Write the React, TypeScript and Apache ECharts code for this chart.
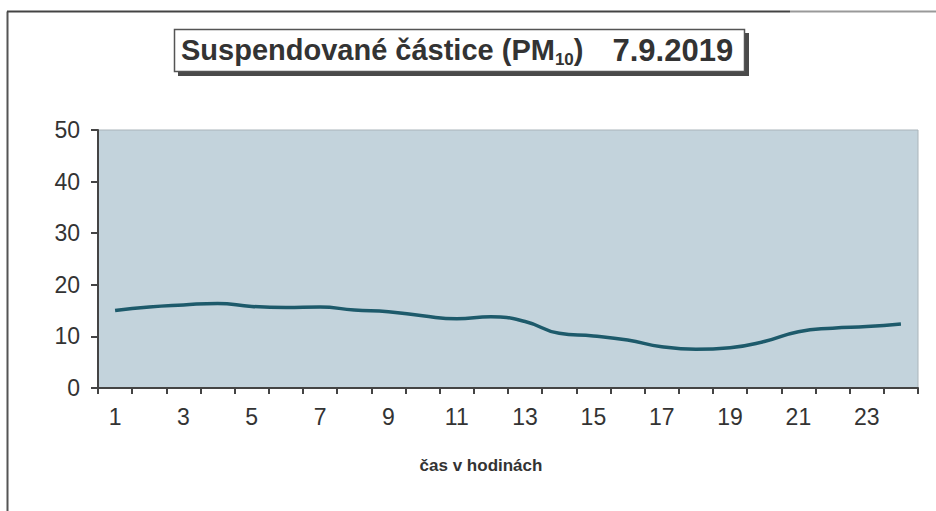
import React, { useEffect, useRef } from "react";
import * as echarts from "echarts";

const hours: string[] = [
  "1","2","3","4","5","6","7","8","9","10","11","12",
  "13","14","15","16","17","18","19","20","21","22","23","24",
];
const pm10: number[] = [
  15.0, 15.7, 16.1, 16.4, 15.8, 15.6, 15.7, 15.1, 14.8, 14.0, 13.4, 13.8,
  12.9, 10.6, 10.1, 9.3, 8.0, 7.5, 7.8, 9.0, 10.9, 11.6, 11.9, 12.4,
];
const yTicks = { min: 0, max: 50, interval: 10 };
const titleMain = "Suspendované částice (PM";
const titleSub = "10";
const titleEnd = ")";
const titleDate = "7.9.2019";
const xAxisName = "čas v hodinách";

const FONT = "Liberation Sans, Arial, sans-serif";

export default function App() {
  const ref = useRef<HTMLDivElement>(null);
  useEffect(() => {
    if (!ref.current) return;
    const chart = echarts.init(ref.current, null, { renderer: "svg" });
    chart.setOption({
      animation: false,
      backgroundColor: "#ffffff",
      grid: {
        left: 98,
        right: 18,
        top: 130,
        bottom: 123,
        show: true,
        backgroundColor: "#c3d3dc",
        borderColor: "#aab4ba",
        borderWidth: 1,
      },
      graphic: [
        { type: "line", shape: { x1: 7.5, y1: 11.5, x2: 7.5, y2: 511 }, style: { stroke: "#555", lineWidth: 2 } },
        { type: "line", shape: { x1: 7, y1: 11.5, x2: 790, y2: 11.5 }, style: { stroke: "#444", lineWidth: 2 } },
        { type: "line", shape: { x1: 790, y1: 11.5, x2: 936, y2: 11.5 }, style: { stroke: "#999", lineWidth: 2 } },
        { type: "rect", shape: { x: 178, y: 33, width: 571, height: 43 }, style: { fill: "#4a4a4a" } },
        { type: "rect", shape: { x: 174.5, y: 29.5, width: 570, height: 42 }, style: { fill: "#ffffff", stroke: "#555", lineWidth: 1.5 } },
        {
          type: "text",
          x: 181,
          y: 50,
          style: {
            text: `{a|${titleMain}}{s|${titleSub}}{a|${titleEnd}}{g| }{d|${titleDate}}`,
            verticalAlign: "middle",
            align: "left",
            rich: {
              a: { fontFamily: FONT, fontWeight: "bold", fontSize: 29, lineHeight: 36, fill: "#333" },
              s: { fontFamily: FONT, fontWeight: "bold", fontSize: 17, lineHeight: 17, verticalAlign: "bottom", fill: "#333" },
              g: { fontFamily: FONT, fontSize: 29, lineHeight: 36, width: 29 },
              d: { fontFamily: FONT, fontWeight: "bold", fontSize: 31, lineHeight: 36, fill: "#333" },
            },
          },
        },
      ],
      xAxis: {
        type: "category",
        data: hours,
        boundaryGap: true,
        name: xAxisName,
        nameLocation: "middle",
        nameGap: 69,
        nameTextStyle: { fontFamily: FONT, fontWeight: "bold", fontSize: 17, color: "#333", padding: [0, 54, 0, 0] },
        axisLine: { lineStyle: { color: "#444", width: 2 } },
        axisTick: { show: true, interval: 0, alignWithLabel: false, length: 6, lineStyle: { color: "#444", width: 2 } },
        axisLabel: { interval: 1, fontFamily: FONT, fontSize: 23, color: "#333", margin: 17 },
        splitLine: { show: false },
      },
      yAxis: {
        type: "value",
        min: yTicks.min,
        max: yTicks.max,
        interval: yTicks.interval,
        axisLine: { show: true, lineStyle: { color: "#444", width: 2 } },
        axisTick: { show: true, length: 7, lineStyle: { color: "#444", width: 2 } },
        axisLabel: { fontFamily: FONT, fontSize: 23, color: "#333", margin: 18 },
        splitLine: { show: false },
      },
      series: [
        {
          type: "line",
          data: pm10,
          smooth: true,
          showSymbol: false,
          symbol: "none",
          lineStyle: { color: "#1d5a6b", width: 3.5 },
        },
      ],
    });
    return () => chart.dispose();
  }, []);
  return <div ref={ref} style={{ width: 936, height: 511, position: "absolute", left: 0, top: 0 }} />;
}
